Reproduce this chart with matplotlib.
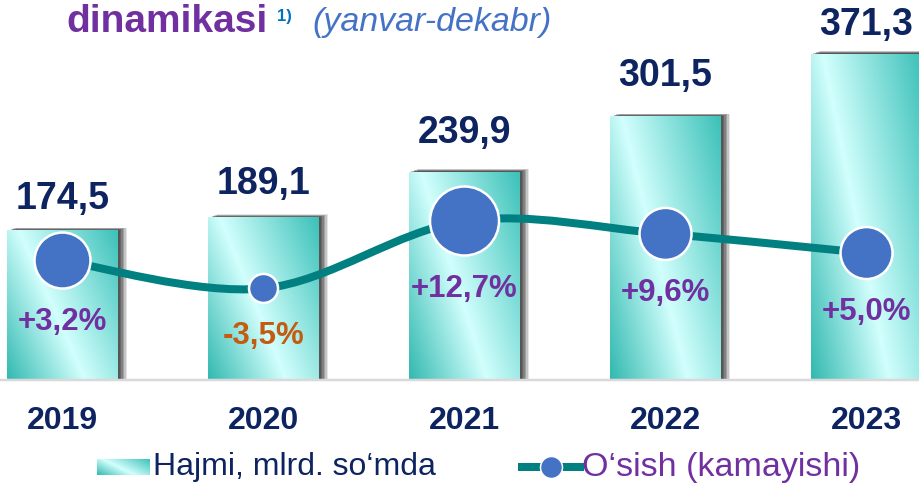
import numpy as np
import matplotlib
matplotlib.use('Agg')
import matplotlib.pyplot as plt
from matplotlib.colors import LinearSegmentedColormap
from matplotlib.path import Path
from matplotlib.patches import PathPatch
import matplotlib.patheffects as pe
from matplotlib.lines import Line2D

plt.rcParams['font.family'] = ['Liberation Sans', 'DejaVu Sans']

# ---------------- data ----------------
years = ['2019', '2020', '2021', '2022', '2023']
volume = [174.5, 189.1, 239.9, 301.5, 371.3]
volume_labels = ['174,5', '189,1', '239,9', '301,5', '371,3']
growth = [3.2, -3.5, 12.7, 9.6, 5.0]
growth_labels = ['+3,2%', '-3,5%', '+12,7%', '+9,6%', '+5,0%']
title_main = 'dinamikasi'
title_note = '1)'
title_period = '(yanvar-dekabr)'
legend_bar = 'Hajmi, mlrd. so\u2018mda'
legend_line = 'O\u2018sish (kamayishi)'

# ---------------- style ----------------
marker_diam_px = [56, 29, 69, 52, 52]
value_gap_px = [31, 33, 39, 40, 29]
growth_colors = ['#7030a0', '#c55a11', '#7030a0', '#7030a0', '#7030a0']
navy = '#0d2461'
purple = '#7030a0'
teal_line = '#008080'
dot_color = '#4472c4'

DPI = 100
W, H = 920, 486
PT = 72 / DPI
fig = plt.figure(figsize=(W / DPI, H / DPI), dpi=DPI)

ax = fig.add_axes([0, 106 / H, 1, 380 / H])
ax.axis('off')
XLIM = (-0.311, 4.266)
YLIM = (7.8, 431)

x = np.arange(len(years))
bw = 0.552
shadow = [pe.SimplePatchShadow(offset=(o, o * 0.3), shadow_rgbFace='#303030', alpha=a)
          for o, a in [(6.5, 0.12), (5.5, 0.18), (4.5, 0.24), (3.5, 0.28), (2.5, 0.30), (1.5, 0.30)]]
bars = ax.bar(x, volume, width=bw, color='#3cc1b9', zorder=1,
              path_effects=shadow + [pe.Normal()])

cmap = LinearSegmentedColormap.from_list('g', [(0, '#32b9b0'), (0.44, '#d2fffd'), (1, '#3cc1b9')])
n = 200
u = np.linspace(0, 1, n)[None, :]
v = np.linspace(1, 0, n)[:, None]
t = (u - 0.6 * (1 - v) + 0.6) / 1.6
for rect, xi, val in zip(bars, x, volume):
    im = ax.imshow(t, cmap=cmap, vmin=0, vmax=1, extent=(xi - bw / 2, xi + bw / 2, YLIM[0], val),
                   aspect='auto', origin='upper', zorder=2, interpolation='bilinear')
    im.set_clip_path(rect)

ax.set_xlim(*XLIM)
ax.set_ylim(*YLIM)
ax.axhline(YLIM[0], color='#d9d9d9', lw=2.5 * PT, clip_on=False, zorder=3)

for xi, val, lbl, gap in zip(x, volume, volume_labels, value_gap_px):
    ax.annotate(lbl, (xi, val), xytext=(0, gap * PT), textcoords='offset points',
                ha='center', va='center', fontsize=27, fontweight='bold', color=navy, zorder=5)

for xi, yr in zip(x, years):
    ax.annotate(yr, (xi, 0), xycoords=('data', 'axes fraction'), xytext=(0, -41 * PT),
                textcoords='offset points', ha='center', va='center', fontsize=23,
                fontweight='bold', color=navy, annotation_clip=False)

# ---------------- growth line ----------------
ax2 = ax.twinx()
ax2.axis('off')
ax2.set_ylim(-25.5, 65.8)
ax2.set_xlim(*XLIM)

pts = np.column_stack([x, growth]).astype(float)
ext = np.vstack([pts[0], pts, pts[-1]])
verts = [pts[0]]
codes = [Path.MOVETO]
for i in range(len(pts) - 1):
    p0, p1, p2, p3 = ext[i], ext[i + 1], ext[i + 2], ext[i + 3]
    verts += [p1 + (p2 - p0) / 6, p2 - (p3 - p1) / 6, p2]
    codes += [Path.CURVE4] * 3
ax2.add_patch(PathPatch(Path(verts, codes), fill=False, edgecolor=teal_line,
                        lw=8 * PT, capstyle='round', zorder=3))
ax2.scatter(x, growth, s=[(d * PT) ** 2 for d in marker_diam_px], c=dot_color,
            edgecolors='white', linewidths=2.5 * PT, zorder=4)

for xi, g, lbl, d, col in zip(x, growth, growth_labels, marker_diam_px, growth_colors):
    ax2.annotate(lbl, (xi, g), xytext=(0, -(d / 2 + 33) * PT), textcoords='offset points',
                 ha='center', va='center', fontsize=22.5, fontweight='bold', color=col, zorder=5)

# ---------------- title ----------------
fig.text(66 / W, 1 - 22 / H, title_main, fontsize=28, fontweight='bold', color=purple,
         ha='left', va='center')
fig.text(277 / W, 1 - 17 / H, title_note, fontsize=12, fontweight='bold', color='#0070c0',
         ha='left', va='center')
fig.text(312 / W, 1 - 22 / H, title_period, fontsize=24.5, style='italic', color=dot_color,
         ha='left', va='center')

# ---------------- legend ----------------
ly = 1 - 467 / H
lax = fig.add_axes([97 / W, 1 - 475 / H, 53 / W, 16 / H])
lax.axis('off')
lax.imshow(t, cmap=cmap, vmin=0, vmax=1, aspect='auto', interpolation='bilinear')
fig.text(153 / W, ly, legend_bar, fontsize=23, color=navy, ha='left', va='center')
fig.add_artist(Line2D([522 / W, 580 / W], [ly, ly], transform=fig.transFigure,
                      color=teal_line, lw=8 * PT))
fig.add_artist(Line2D([551 / W], [ly], transform=fig.transFigure, marker='o',
                      markersize=22 * PT, markerfacecolor=dot_color, markeredgecolor='white',
                      markeredgewidth=1.5 * PT, linestyle='none'))
fig.text(582 / W, ly, legend_line, fontsize=24.5, color=purple, ha='left', va='center')

fig.savefig('out.png', dpi=DPI)
